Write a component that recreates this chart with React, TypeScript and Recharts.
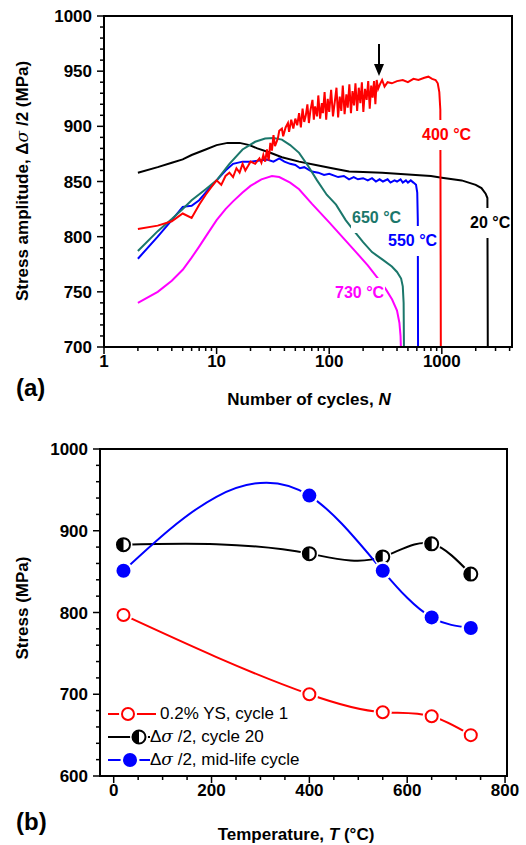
import { LineChart, Line, XAxis, YAxis, ReferenceArea } from "recharts";
import type { CSSProperties } from "react";

// ---- panel (a): stress amplitude vs number of cycles ----
const cycleTicks = [1, 2, 3, 4, 5, 6, 7, 8, 9, 10, 20, 30, 40, 50, 60, 70, 80, 90, 100, 200, 300, 400, 500, 600, 700, 800, 900, 1000, 2000, 3000, 4000];
const cycleLabels = [1, 10, 100, 1000];
const amplitudeTicks = [700, 710, 720, 730, 740, 750, 760, 770, 780, 790, 800, 810, 820, 830, 840, 850, 860, 870, 880, 890, 900, 910, 920, 930, 940, 950, 960, 970, 980, 990, 1000];
const amplitudeLabels = [700, 750, 800, 850, 900, 950, 1000];

// [N, stress amplitude MPa]
const curve20C = [[2, 858], [3, 863], [4, 867], [5, 870], [6, 874], [8, 879], [10, 883], [12.5, 885], [16, 885], [19.6, 883], [23, 880], [30, 876], [38, 872], [54, 868], [76, 865], [106, 862], [150, 859], [200, 858.5], [295, 858], [400, 857], [585, 856], [800, 855], [1000, 853.5], [1500, 851], [2000, 847], [2250, 844], [2450, 839], [2540, 835], [2560, 700]];
const curve400C = [[2, 807], [3, 810], [4, 814], [5, 821], [6, 817], [7, 829], [8, 838], [9, 845], [10, 851], [11, 847], [12, 855], [13, 858], [14, 854], [15, 862], [16, 858], [17, 866], [18, 860], [19, 864], [20, 868], [22, 866], [24, 871], [25, 867], [26, 874], [27, 868], [28, 879], [29, 869], [30, 885], [31, 878], [32, 892], [33, 882], [35, 889], [36, 896], [38, 898], [39, 891], [41, 899], [43, 903], [44, 895], [46, 906], [48, 898], [50, 907], [52, 901], [54, 912], [56, 899], [58, 916], [60, 904], [62, 910], [64, 920], [66, 903], [68, 914], [71, 924], [73, 906], [75, 918], [78, 909], [80, 928], [83, 907], [86, 921], [88, 912], [91, 931], [94, 906], [97, 925], [100, 913], [104, 933], [108, 909], [112, 922], [116, 935], [120, 908], [124, 927], [128, 914], [132, 937], [137, 911], [142, 929], [146, 917], [151, 938], [156, 912], [161, 932], [166, 919], [171, 939], [177, 914], [183, 935], [189, 921], [195, 940], [201, 913], [208, 934], [215, 924], [222, 941], [229, 916], [236, 937], [243, 926], [250, 941], [257, 920], [264, 942], [272, 934], [282, 938], [295, 942], [310, 936], [330, 940], [360, 939], [400, 941], [450, 942], [500, 940], [560, 943], [620, 942], [700, 944], [760, 945], [820, 943], [880, 942], [920, 939], [950, 931], [970, 915], [980, 700]];
const curve550C = [[2, 780], [3, 800], [4, 815], [5, 827], [6, 828], [7, 833], [8, 840], [9, 846], [10, 851], [12, 860], [14, 866], [17, 868], [20, 868], [24, 869], [28, 870], [32, 868], [36, 871], [40, 868], [45, 866], [50, 865], [55, 862], [60, 863], [70, 859], [80, 858], [90, 856], [100, 857], [120, 854], [135, 855], [150, 852], [165, 854], [180, 852], [200, 853], [220, 851], [240, 853], [260, 850], [280, 852], [300, 850], [330, 852], [350, 849], [380, 851], [400, 850], [430, 852], [450, 849], [480, 851], [500, 849], [530, 851], [560, 849], [590, 847], [605, 840], [612, 815], [615, 700]];
const curve650C = [[2, 787], [3, 805], [4, 816], [5, 825], [6, 833], [8, 843], [10, 851], [13, 866], [17, 879], [22, 886], [27, 889], [32, 889.5], [38, 888], [45, 883], [54, 876], [65, 864], [78, 851], [95, 838], [115, 829], [140, 815], [173, 803], [200, 795], [240, 786], [300, 779], [360, 773], [400, 768], [435, 762], [450, 755], [458, 740], [461, 700]];
const curve730C = [[2, 740], [3, 750], [4, 760], [5, 770], [6, 781], [7, 791], [8, 800], [10, 815], [12, 825], [14, 832], [17, 840], [20, 846], [25, 852], [31, 855], [36, 854], [45, 849], [54, 843], [70, 830], [100, 813], [130, 800], [173, 786], [220, 774], [276, 761], [320, 752], [362, 743], [400, 733], [420, 722], [430, 710], [433, 700]];

// ---- panel (b): stress vs temperature ----
const temperatures = [20, 400, 550, 650, 730];
const yieldCycle1 = [797, 700, 678, 673, 650];
const ampCycle20 = [883, 872, 868, 884, 847];
const ampMidLife = [851, 943, 851, 794, 781];
const tempTicks = [0, 50, 100, 150, 200, 250, 300, 350, 400, 450, 500, 550, 600, 650, 700, 750, 800];
const tempLabels = [0, 200, 400, 600, 800];
const stressTicks = [600, 620, 640, 660, 680, 700, 720, 740, 760, 780, 800, 820, 840, 860, 880, 900, 920, 940, 960, 980, 1000];
const stressLabels = [600, 700, 800, 900, 1000];

const toPoints = (pairs: number[][]) => pairs.map(([n, s]) => ({ n, s }));
const tempRows = temperatures.map((t, i) => ({ t, ys: yieldCycle1[i], c20: ampCycle20[i], mid: ampMidLife[i] }));

const FONT = "'Liberation Sans', Arial, sans-serif";
const tickFont: CSSProperties = { fontFamily: FONT, fontSize: 17, fontWeight: 700, fill: "#000" };

// natural cubic spline with y as a function of x (Origin-like spline)
function splineX(context: any) {
  let xs: number[] = [];
  let ys: number[] = [];
  return {
    areaStart() {},
    areaEnd() {},
    lineStart() {
      xs = [];
      ys = [];
    },
    point(x: number, y: number) {
      xs.push(+x);
      ys.push(+y);
    },
    lineEnd() {
      const n = xs.length;
      if (!n) return;
      context.moveTo(xs[0], ys[0]);
      if (n < 3) {
        for (let i = 1; i < n; i++) context.lineTo(xs[i], ys[i]);
        return;
      }
      const h: number[] = [];
      const s: number[] = [];
      for (let i = 0; i < n - 1; i++) {
        h[i] = xs[i + 1] - xs[i];
        s[i] = (ys[i + 1] - ys[i]) / h[i];
      }
      const M = new Array(n).fill(0);
      const cp: number[] = [];
      const dp: number[] = [];
      for (let i = 1; i < n - 1; i++) {
        const a = h[i - 1];
        const b = 2 * (h[i - 1] + h[i]);
        const c = h[i];
        const d = 6 * (s[i] - s[i - 1]);
        if (i === 1) {
          cp[i] = c / b;
          dp[i] = d / b;
        } else {
          const m = b - a * cp[i - 1];
          cp[i] = c / m;
          dp[i] = (d - a * dp[i - 1]) / m;
        }
      }
      for (let i = n - 2; i >= 1; i--) M[i] = dp[i] - cp[i] * M[i + 1];
      for (let i = 0; i < n - 1; i++) {
        const d0 = s[i] - (h[i] * (2 * M[i] + M[i + 1])) / 6;
        const d1 = s[i] + (h[i] * (M[i] + 2 * M[i + 1])) / 6;
        context.bezierCurveTo(xs[i] + h[i] / 3, ys[i] + (d0 * h[i]) / 3, xs[i + 1] - h[i] / 3, ys[i + 1] - (d1 * h[i]) / 3, xs[i + 1], ys[i + 1]);
      }
    },
  };
}

function makeTick(labels: number[], side: "bottom" | "top" | "left" | "right") {
  return (p: any) => {
    const x = Number(p.x);
    const y = Number(p.y);
    const v = p.payload.value;
    const major = labels.includes(v);
    const len = major ? 7 : 4;
    const mark = (d: string) => <path d={d} stroke="#000" strokeWidth={1.5} fill="none" />;
    if (side === "top") return mark(`M${x},${y}V${y + len}`);
    if (side === "right") return mark(`M${x},${y}H${x - len}`);
    if (side === "bottom")
      return (
        <g>
          {mark(`M${x},${y}V${y + len}`)}
          {major && (
            <text x={x} y={y + 20} textAnchor="middle" style={tickFont}>
              {v}
            </text>
          )}
        </g>
      );
    return (
      <g>
        {mark(`M${x},${y}H${x - len}`)}
        {major && (
          <text x={x - 12} y={y + 6} textAnchor="end" style={tickFont}>
            {v}
          </text>
        )}
      </g>
    );
  };
}

const OpenDot = (p: any) => (
  <g>
    <circle cx={p.cx} cy={p.cy} r={9} fill="#fff" />
    <circle cx={p.cx} cy={p.cy} r={6} fill="#fff" stroke="#ff0000" strokeWidth={2} />
  </g>
);
const HalfDot = (p: any) => {
  const r = 6.5;
  return (
    <g>
      <circle cx={p.cx} cy={p.cy} r={9} fill="#fff" />
      <circle cx={p.cx} cy={p.cy} r={r} fill="#fff" stroke="#000" strokeWidth={2} />
      <path d={`M ${p.cx} ${p.cy - r} A ${r} ${r} 0 0 0 ${p.cx} ${p.cy + r} Z`} fill="#000" />
    </g>
  );
};
const FullDot = (p: any) => (
  <g>
    <circle cx={p.cx} cy={p.cy} r={9.5} fill="#fff" />
    <circle cx={p.cx} cy={p.cy} r={7} fill="#0000ff" />
  </g>
);

const tempLabel = (color: string, left: number, top: number, text: string) => (
  <div
    style={{
      position: "absolute",
      left,
      top,
      color,
      background: "#fff",
      padding: "6px 1px",
      font: `700 16px ${FONT}`,
      lineHeight: "18px",
      whiteSpace: "nowrap",
    }}
  >
    {text}
  </div>
);

const title: CSSProperties = { position: "absolute", font: `700 17px ${FONT}`, whiteSpace: "nowrap", color: "#000" };
const panelTag: CSSProperties = { position: "absolute", font: `700 24px ${FONT}`, color: "#000" };
const sigma = <span style={{ fontFamily: "'DejaVu Serif', serif", fontStyle: "italic", fontWeight: 400 }}>σ</span>;

function LegendBox() {
  const rows = [
    { marker: <OpenDot cx={22} cy={11} />, color: "#ff0000", pad: 6, text: <>0.2% YS, cycle 1</> },
    { marker: <HalfDot cx={33} cy={11} />, color: "#000", pad: 0, text: <>Δ{sigma} /2, cycle 20</> },
    { marker: <FullDot cx={24} cy={11} />, color: "#0000ff", pad: 0, text: <>Δ{sigma} /2, mid-life cycle</> },
  ];
  return (
    <div style={{ position: "absolute", left: 106, top: 282, font: `400 17px ${FONT}`, color: "#000" }}>
      {rows.map((r, i) => (
        <div key={i} style={{ display: "flex", alignItems: "center", height: 23 }}>
          <svg width={44 + r.pad} height={22} style={{ flex: "none" }}>
            <line x1={2} x2={44 + r.pad} y1={11} y2={11} stroke={r.color} strokeWidth={2} />
            {r.marker}
          </svg>
          <span style={{ whiteSpace: "nowrap", paddingLeft: r.pad ? 4 : 0 }}>{r.text}</span>
        </div>
      ))}
    </div>
  );
}

const axisCommon = { type: "number" as const, allowDataOverflow: true, interval: 0 as const, tickSize: 0, tickMargin: 0, stroke: "#000", axisLine: { stroke: "#000", strokeWidth: 2 } };

export default function App() {
  return (
    <div style={{ position: "relative", width: 526, height: 845, background: "#fff", overflow: "hidden" }}>
      <style>{`body{margin:0}`}</style>

      {/* panel (a) */}
      <div style={{ position: "absolute", left: 0, top: 0 }}>
        <LineChart width={526} height={420} margin={{ top: 16, right: 14, left: 0, bottom: 0 }}>
          <XAxis {...axisCommon} xAxisId="b" dataKey="n" scale="log" domain={[1, 4200]} ticks={cycleTicks} height={73} tick={makeTick(cycleLabels, "bottom")} />
          <XAxis {...axisCommon} xAxisId="t" orientation="top" dataKey="n" scale="log" domain={[1, 4200]} ticks={cycleTicks} height={0} tick={makeTick(cycleLabels, "top")} />
          <YAxis {...axisCommon} yAxisId="l" domain={[700, 1000]} ticks={amplitudeTicks} width={104} tick={makeTick(amplitudeLabels, "left")} />
          <YAxis {...axisCommon} yAxisId="r" orientation="right" domain={[700, 1000]} ticks={amplitudeTicks} width={0} tick={makeTick(amplitudeLabels, "right")} />
          <ReferenceArea xAxisId="b" yAxisId="l" x1={1} x2={4200} y1={700} y2={1000} fill="none" stroke="#000" strokeWidth={2} ifOverflow="visible" />
          {[
            { key: "20", pts: curve20C, color: "#000000" },
            { key: "730", pts: curve730C, color: "#ff00ff" },
            { key: "550", pts: curve550C, color: "#0000ff" },
            { key: "650", pts: curve650C, color: "#1b776b" },
            { key: "400", pts: curve400C, color: "#ff0000" },
          ].map((c) => (
            <Line
              key={c.key}
              xAxisId="b"
              yAxisId="l"
              data={toPoints(c.pts)}
              dataKey="s"
              type="linear"
              stroke={c.color}
              strokeWidth={2}
              dot={false}
              isAnimationActive={false}
            />
          ))}
        </LineChart>
        {tempLabel("#ff0000", 421, 120, "400 °C")}
        {tempLabel("#1b776b", 351, 203, "650 °C")}
        {tempLabel("#0000ff", 387, 226, "550 °C")}
        {tempLabel("#000000", 469, 208, "20 °C")}
        {tempLabel("#ff00ff", 334, 278, "730 °C")}
        <svg style={{ position: "absolute", left: 370, top: 42 }} width={18} height={40}>
          <line x1={9} x2={9} y1={2} y2={28} stroke="#000" strokeWidth={2} />
          <polygon points="4,22 14,22 9,34" fill="#000" />
        </svg>
        <div style={{ ...title, left: 22, top: 181, transform: "translate(-50%,-50%) rotate(-90deg)" }}>
          Stress amplitude, Δ{sigma} /2 (MPa)
        </div>
        <div style={{ ...title, left: 309, top: 400, transform: "translate(-50%,-50%)" }}>
          Number of cycles, <i>N</i>
        </div>
        <div style={{ ...panelTag, left: 16, top: 374 }}>(a)</div>
      </div>

      {/* panel (b) */}
      <div style={{ position: "absolute", left: 0, top: 420 }}>
        <LineChart width={526} height={425} data={tempRows} margin={{ top: 29, right: 19, left: 0, bottom: 0 }}>
          <XAxis {...axisCommon} xAxisId="b" dataKey="t" domain={[-28, 804]} ticks={tempTicks} height={69} tick={makeTick(tempLabels, "bottom")} />
          <XAxis {...axisCommon} xAxisId="t" orientation="top" dataKey="t" domain={[-28, 804]} ticks={tempTicks} height={0} tick={makeTick(tempLabels, "top")} />
          <YAxis {...axisCommon} yAxisId="l" domain={[600, 1000]} ticks={stressTicks} width={100} tick={makeTick(stressLabels, "left")} />
          <YAxis {...axisCommon} yAxisId="r" orientation="right" domain={[600, 1000]} ticks={stressTicks} width={0} tick={makeTick(stressLabels, "right")} />
          <ReferenceArea xAxisId="b" yAxisId="l" x1={-28} x2={804} y1={600} y2={1000} fill="none" stroke="#000" strokeWidth={2} ifOverflow="visible" />
          <Line xAxisId="b" yAxisId="l" dataKey="ys" type={splineX as any} stroke="#ff0000" strokeWidth={2} dot={<OpenDot />} isAnimationActive={false} />
          <Line xAxisId="b" yAxisId="l" dataKey="c20" type={splineX as any} stroke="#000000" strokeWidth={2} dot={<HalfDot />} isAnimationActive={false} />
          <Line xAxisId="b" yAxisId="l" dataKey="mid" type={splineX as any} stroke="#0000ff" strokeWidth={2} dot={<FullDot />} isAnimationActive={false} />
        </LineChart>
        <LegendBox />
        <div style={{ ...title, left: 23, top: 188, transform: "translate(-50%,-50%) rotate(-90deg)" }}>Stress (MPa)</div>
        <div style={{ ...title, left: 296, top: 415, transform: "translate(-50%,-50%)" }}>
          Temperature, <i>T</i> (°C)
        </div>
        <div style={{ ...panelTag, left: 16, top: 388 }}>(b)</div>
      </div>
    </div>
  );
}
